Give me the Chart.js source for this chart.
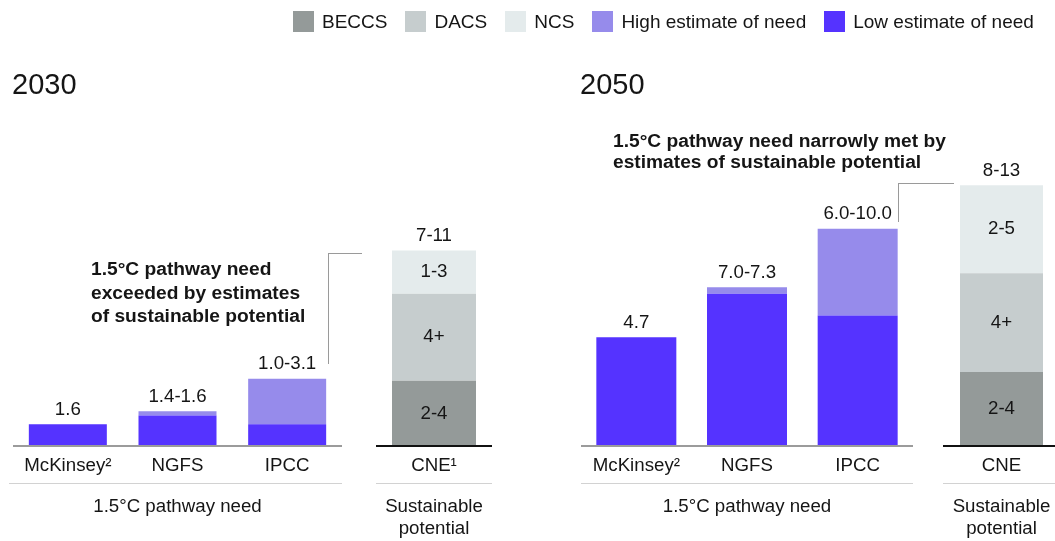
<!DOCTYPE html>
<html>
<head>
<meta charset="utf-8">
<script src="https://cdn.jsdelivr.net/npm/chart.js@4/dist/chart.umd.min.js"></script>
<style>
  html, body { margin:0; padding:0; background:#fff; width:1055px; height:541px; overflow:hidden; }
  body { position:relative; font-family:"Liberation Sans", Arial, sans-serif; color:#151515; }
  canvas { position:absolute; top:0; }
  .t { position:absolute; white-space:nowrap; }
  .title { font-size:29px; line-height:30px; }
  .anno { font-weight:bold; font-size:19.2px; }
  .grp { font-size:18.7px; line-height:22px; text-align:center; }
  .legend { position:absolute; left:293px; top:11px; height:21px; display:flex; align-items:center; font-size:19px; }
  .legend .sw { width:21px; height:21px; margin-right:8px; }
  .legend .it { display:flex; align-items:center; margin-right:18px; }
  .br { position:absolute; border-color:#9a9a9a; border-style:solid; border-width:0; }
</style>
</head>
<body>
<script>
// ---------- data ----------
const categories = ["McKinsey\u00B2", "NGFS", "IPCC"];
const low2030 = [1.0, 1.4, 1.0];
const high2030 = [1.0, 1.6, 3.1];
const rangeLabels2030 = ["1.6", "1.4-1.6", "1.0-3.1"];
const low2050 = [5.0, 7.0, 6.0];
const high2050 = [5.0, 7.3, 10.0];
const rangeLabels2050 = ["4.7", "7.0-7.3", "6.0-10.0"];

const cneCategory2030 = ["CNE\u00B9"];
const cneCategory2050 = ["CNE"];
const beccs2030 = [3.0], dacs2030 = [4.0], ncs2030 = [2.0];
const beccs2050 = [3.4], dacs2050 = [4.55], ncs2050 = [4.05];
const segLabels2030 = ["2-4", "4+", "1-3"];
const segLabels2050 = ["2-4", "4+", "2-5"];
const total2030 = "7-11";
const total2050 = "8-13";

const legendItems = ["BECCS", "DACS", "NCS", "High estimate of need", "Low estimate of need"];
// ---------- styles ----------
const C = { BECCS:"#949a99", DACS:"#c6cdce", NCS:"#e4ebec", HIGH:"#968beb", LOW:"#5533ff" };
const FONT = "18.7px 'Liberation Sans', Arial, sans-serif";
const TXT = "#151515";
const YMAX = 15, PAD_TOP = 120, PAD_BOTTOM = 95, H = 541;

function text(cls, str, css) {
  const d = document.createElement('div');
  d.className = 't ' + cls;
  d.innerHTML = str;
  Object.assign(d.style, css);
  document.body.appendChild(d);
  return d;
}

function makeCanvas(left, width) {
  const c = document.createElement('canvas');
  c.width = width; c.height = H;
  c.style.left = left + 'px';
  c.style.width = width + 'px'; c.style.height = H + 'px';
  document.body.appendChild(c);
  return c;
}

function decoPlugin(opts) {
  return {
    id: 'deco',
    afterDatasetsDraw(chart) {
      const ctx = chart.ctx, a = chart.chartArea, xs = chart.scales.x;
      ctx.save();
      // baseline
      ctx.strokeStyle = opts.axisColor; ctx.lineWidth = 2;
      ctx.beginPath(); ctx.moveTo(a.left, a.bottom); ctx.lineTo(a.right, a.bottom); ctx.stroke();
      // separator
      ctx.strokeStyle = "#d2d2d2"; ctx.lineWidth = 1;
      ctx.beginPath(); ctx.moveTo(a.left - (opts.sepExtL || 0), a.bottom + 37.5); ctx.lineTo(a.right, a.bottom + 37.5); ctx.stroke();
      ctx.fillStyle = TXT; ctx.font = FONT; ctx.textAlign = 'center'; ctx.textBaseline = 'middle';
      // category labels
      chart.data.labels.forEach((lab, i) => {
        ctx.fillText(lab, xs.getPixelForValue(i), a.bottom + 19.5);
      });
      // labels on bars
      const n = chart.data.datasets.length;
      chart.data.labels.forEach((lab, i) => {
        let top = Infinity, x = 0;
        for (let d = 0; d < n; d++) {
          const el = chart.getDatasetMeta(d).data[i];
          if (!el) continue;
          x = el.x;
          top = Math.min(top, el.y);
          if (opts.segLabels) {
            ctx.fillText(opts.segLabels[d], el.x, (el.y + el.base) / 2);
          }
        }
        ctx.fillText(opts.topLabels[i], x, top - 14.5);
      });
      ctx.restore();
    }
  };
}

function baseOptions(barPct, padL) {
  return {
    responsive: false, animation: false, events: [],
    layout: { padding: { top: PAD_TOP, bottom: PAD_BOTTOM, left: padL || 0, right: 0 } },
    plugins: { legend: { display: false }, tooltip: { enabled: false } },
    datasets: { bar: { barPercentage: barPct, categoryPercentage: 1, borderWidth: 0 } },
    scales: {
      x: { display: false, stacked: true },
      y: { display: false, stacked: true, min: 0, max: YMAX }
    }
  };
}

function needChart(left, width, barW, lows, highs, labels, padL) {
  padL = padL || 0;
  const cv = makeCanvas(left - padL, width + padL);
  const catW = width / categories.length;
  new Chart(cv, {
    type: 'bar',
    data: {
      labels: categories,
      datasets: [
        { label: 'Low estimate of need', data: lows, backgroundColor: C.LOW },
        { label: 'High estimate of need', data: highs.map((h, i) => +(h - lows[i]).toFixed(3)), backgroundColor: C.HIGH }
      ]
    },
    options: baseOptions(barW / catW, padL),
    plugins: [decoPlugin({ axisColor: "#9b9b9b", topLabels: labels, sepExtL: padL })]
  });
}

function cneChart(left, width, barW, cat, b, d, n, seg, total) {
  const cv = makeCanvas(left, width);
  new Chart(cv, {
    type: 'bar',
    data: {
      labels: cat,
      datasets: [
        { label: 'BECCS', data: b, backgroundColor: C.BECCS },
        { label: 'DACS', data: d, backgroundColor: C.DACS },
        { label: 'NCS', data: n, backgroundColor: C.NCS }
      ]
    },
    options: baseOptions(barW / width),
    plugins: [decoPlugin({ axisColor: "#111111", topLabels: [total], segLabels: seg })]
  });
}

// ---------- 2030 ----------
needChart(13, 329, 78, low2030, high2030, rangeLabels2030, 4);
cneChart(376, 116, 84, cneCategory2030, beccs2030, dacs2030, ncs2030, segLabels2030, total2030);
// ---------- 2050 ----------
needChart(581, 332, 80, low2050, high2050, rangeLabels2050, 0);
cneChart(943, 117, 83, cneCategory2050, beccs2050, dacs2050, ncs2050, segLabels2050, total2050);

// ---------- text ----------
text('title', '2030', { left: '12px', top: '69px' });
text('title', '2050', { left: '580px', top: '69px' });
text('anno', '1.5°C pathway need<br>exceeded by estimates<br>of sustainable potential', { left: '91px', top: '257px', lineHeight: '23.5px' });
text('anno', '1.5°C pathway need narrowly met by<br>estimates of sustainable potential', { left: '613px', top: '129.5px', lineHeight: '21.5px' });
text('grp', '1.5°C pathway need', { left: '13px', width: '329px', top: '495px' });
text('grp', '1.5°C pathway need', { left: '581px', width: '332px', top: '495px' });
text('grp', 'Sustainable<br>potential', { left: '376px', width: '116px', top: '495px' });
text('grp', 'Sustainable<br>potential', { left: '943px', width: '117px', top: '495px' });

// brackets
function bracket(x, yTop, yBot, xRight) {
  const v = document.createElement('div');
  v.className = 'br';
  Object.assign(v.style, { left: x + 'px', top: yTop + 'px', height: (yBot - yTop) + 'px', width: (xRight - x) + 'px', borderLeftWidth: '1px', borderTopWidth: '1px' });
  document.body.appendChild(v);
}
bracket(328, 253, 363, 361);
bracket(898, 183, 221, 953);

// legend
const lg = document.createElement('div');
lg.className = 'legend';
const legendColors = [C.BECCS, C.DACS, C.NCS, C.HIGH, C.LOW];
legendItems.forEach((name, i) => {
  const it = document.createElement('div'); it.className = 'it';
  const sw = document.createElement('div'); sw.className = 'sw'; sw.style.background = legendColors[i];
  const tx = document.createElement('span'); tx.textContent = name;
  it.appendChild(sw); it.appendChild(tx); lg.appendChild(it);
});
document.body.appendChild(lg);
</script>
</body>
</html>
